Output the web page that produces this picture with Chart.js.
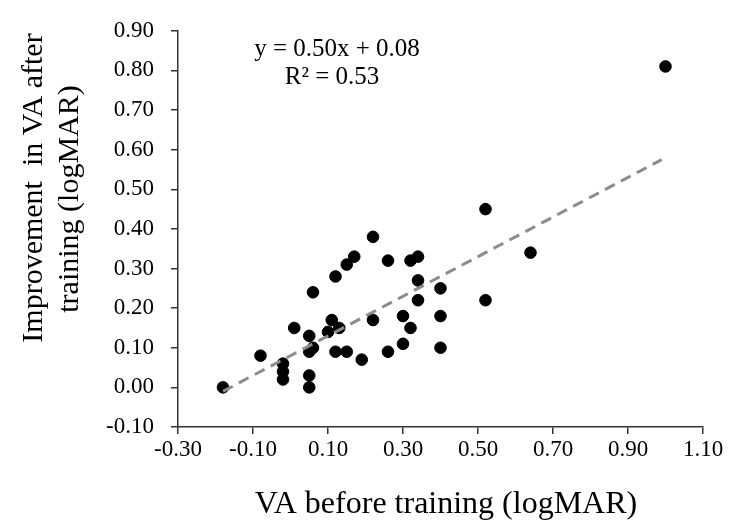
<!DOCTYPE html>
<html>
<head>
<meta charset="utf-8">
<script src="https://cdn.jsdelivr.net/npm/chart.js@4.4.1/dist/chart.umd.min.js"></script>
<style>
  html,body{margin:0;padding:0;background:#fff;}
  #wrap{width:730px;height:524px;position:relative;}
</style>
</head>
<body>
<div id="wrap"><canvas id="chart"></canvas></div>
<script>
// VA before training vs improvement after training (logMAR)
const vaBefore = [-0.18, -0.08, -0.02, -0.02, -0.02, 0.01, 0.05, 0.05, 0.06, 0.05, 0.05, 0.10, 0.11, 0.13, 0.12, 0.15,
  0.06, 0.12, 0.15, 0.17, 0.22, 0.26, 0.32, 0.34, 0.34, 0.40, 0.34, 0.40, 0.30, 0.32, 0.22, 0.30, 0.40, 0.26, 0.19,
  0.52, 0.64, 0.52, 1.00];
const vaImprovement = [0.00, 0.08, 0.06, 0.04, 0.02, 0.15, 0.13, 0.09, 0.10, 0.03, 0.00, 0.14, 0.17, 0.15, 0.09, 0.09,
  0.24, 0.28, 0.31, 0.33, 0.38, 0.32, 0.32, 0.33, 0.27, 0.25, 0.22, 0.18, 0.18, 0.15, 0.17, 0.11, 0.10, 0.09, 0.07,
  0.45, 0.34, 0.22, 0.81];
// trendline ends
const trendX = [-0.18, 0.99];
const trendY = [-0.01, 0.575];
const xTicks = [-0.30, -0.10, 0.10, 0.30, 0.50, 0.70, 0.90, 1.10];
const yTicks = [-0.10, 0.00, 0.10, 0.20, 0.30, 0.40, 0.50, 0.60, 0.70, 0.80, 0.90];
const eqText = 'y = 0.50x + 0.08';
const r2Text = 'R\u00B2 = 0.53';
const xTitle = 'VA before training (logMAR)';
const yTitle = ['Improvement  in VA after', 'training (logMAR)'];

const serif = "'Liberation Serif', 'Times New Roman', serif";
const axisCol = '#333';

// draw the free texts (equation, axis titles) the way excel placed them
const textPlugin = {
  id: 'texts',
  afterDraw(chart){
    const c = chart.ctx;
    c.save();
    c.fillStyle = '#000';
    c.textAlign = 'center';
    c.textBaseline = 'alphabetic';
    c.font = '25px ' + serif;
    c.fillText(eqText, 337, 56);
    c.fillText(r2Text, 332, 84);
    c.font = '32px ' + serif;
    c.fillText(xTitle, 446, 513);
    c.font = '30px ' + serif;
    c.translate(42, 188); c.rotate(-Math.PI/2); c.fillText(yTitle[0], 0, 0);
    c.restore();
    c.save();
    c.fillStyle = '#000'; c.textAlign = 'center'; c.font = '30px ' + serif;
    c.translate(78, 199); c.rotate(-Math.PI/2); c.fillText(yTitle[1], 0, 0);
    c.restore();
  }
};

const ctx = document.getElementById('chart').getContext('2d');
new Chart(ctx, {
  type: 'scatter',
  data: {
    datasets: [
      { type:'line', data: trendX.map((x,i)=>({x, y: trendY[i]})), borderColor:'#8c8c8c', borderWidth:3,
        borderDash:[11,7], pointRadius:0, fill:false, order:0 },
      { data: vaBefore.map((x,i)=>({x, y: vaImprovement[i]})), backgroundColor:'#000', borderColor:'#000',
        pointRadius:5.8, pointHoverRadius:5.8, order:1 }
    ]
  },
  options: {
    responsive:true, maintainAspectRatio:false, animation:false, devicePixelRatio:1,
    layout:{ padding:{ top:20, right:27, left:0, bottom:0 } },
    plugins:{ legend:{display:false}, tooltip:{enabled:false} },
    scales:{
      x:{
        type:'linear', min:-0.30, max:1.10,
        afterBuildTicks: s => { s.ticks = xTicks.map(v=>({value:v})); },
        afterFit: s => { s.height = 97; },
        grid:{ drawOnChartArea:false, drawTicks:true, tickLength:7, color:axisCol, lineWidth:1.5 },
        border:{ display:true, color:axisCol, width:1.5 },
        ticks:{ font:{family:serif, size:23}, color:'#000', padding:2, maxRotation:0,
          callback: v => Number(v).toFixed(2) }
      },
      y:{
        type:'linear', min:-0.10, max:0.90,
        afterBuildTicks: s => { s.ticks = yTicks.map(v=>({value:v})); },
        afterFit: s => { s.width = 178; },
        grid:{ drawOnChartArea:false, drawTicks:true, tickLength:7, color:axisCol, lineWidth:1.5 },
        border:{ display:true, color:axisCol, width:1.5 },
        ticks:{ font:{family:serif, size:23}, color:'#000', padding:17,
          callback: v => Number(v).toFixed(2) }
      }
    }
  },
  plugins:[textPlugin]
});
</script>
</body>
</html>
